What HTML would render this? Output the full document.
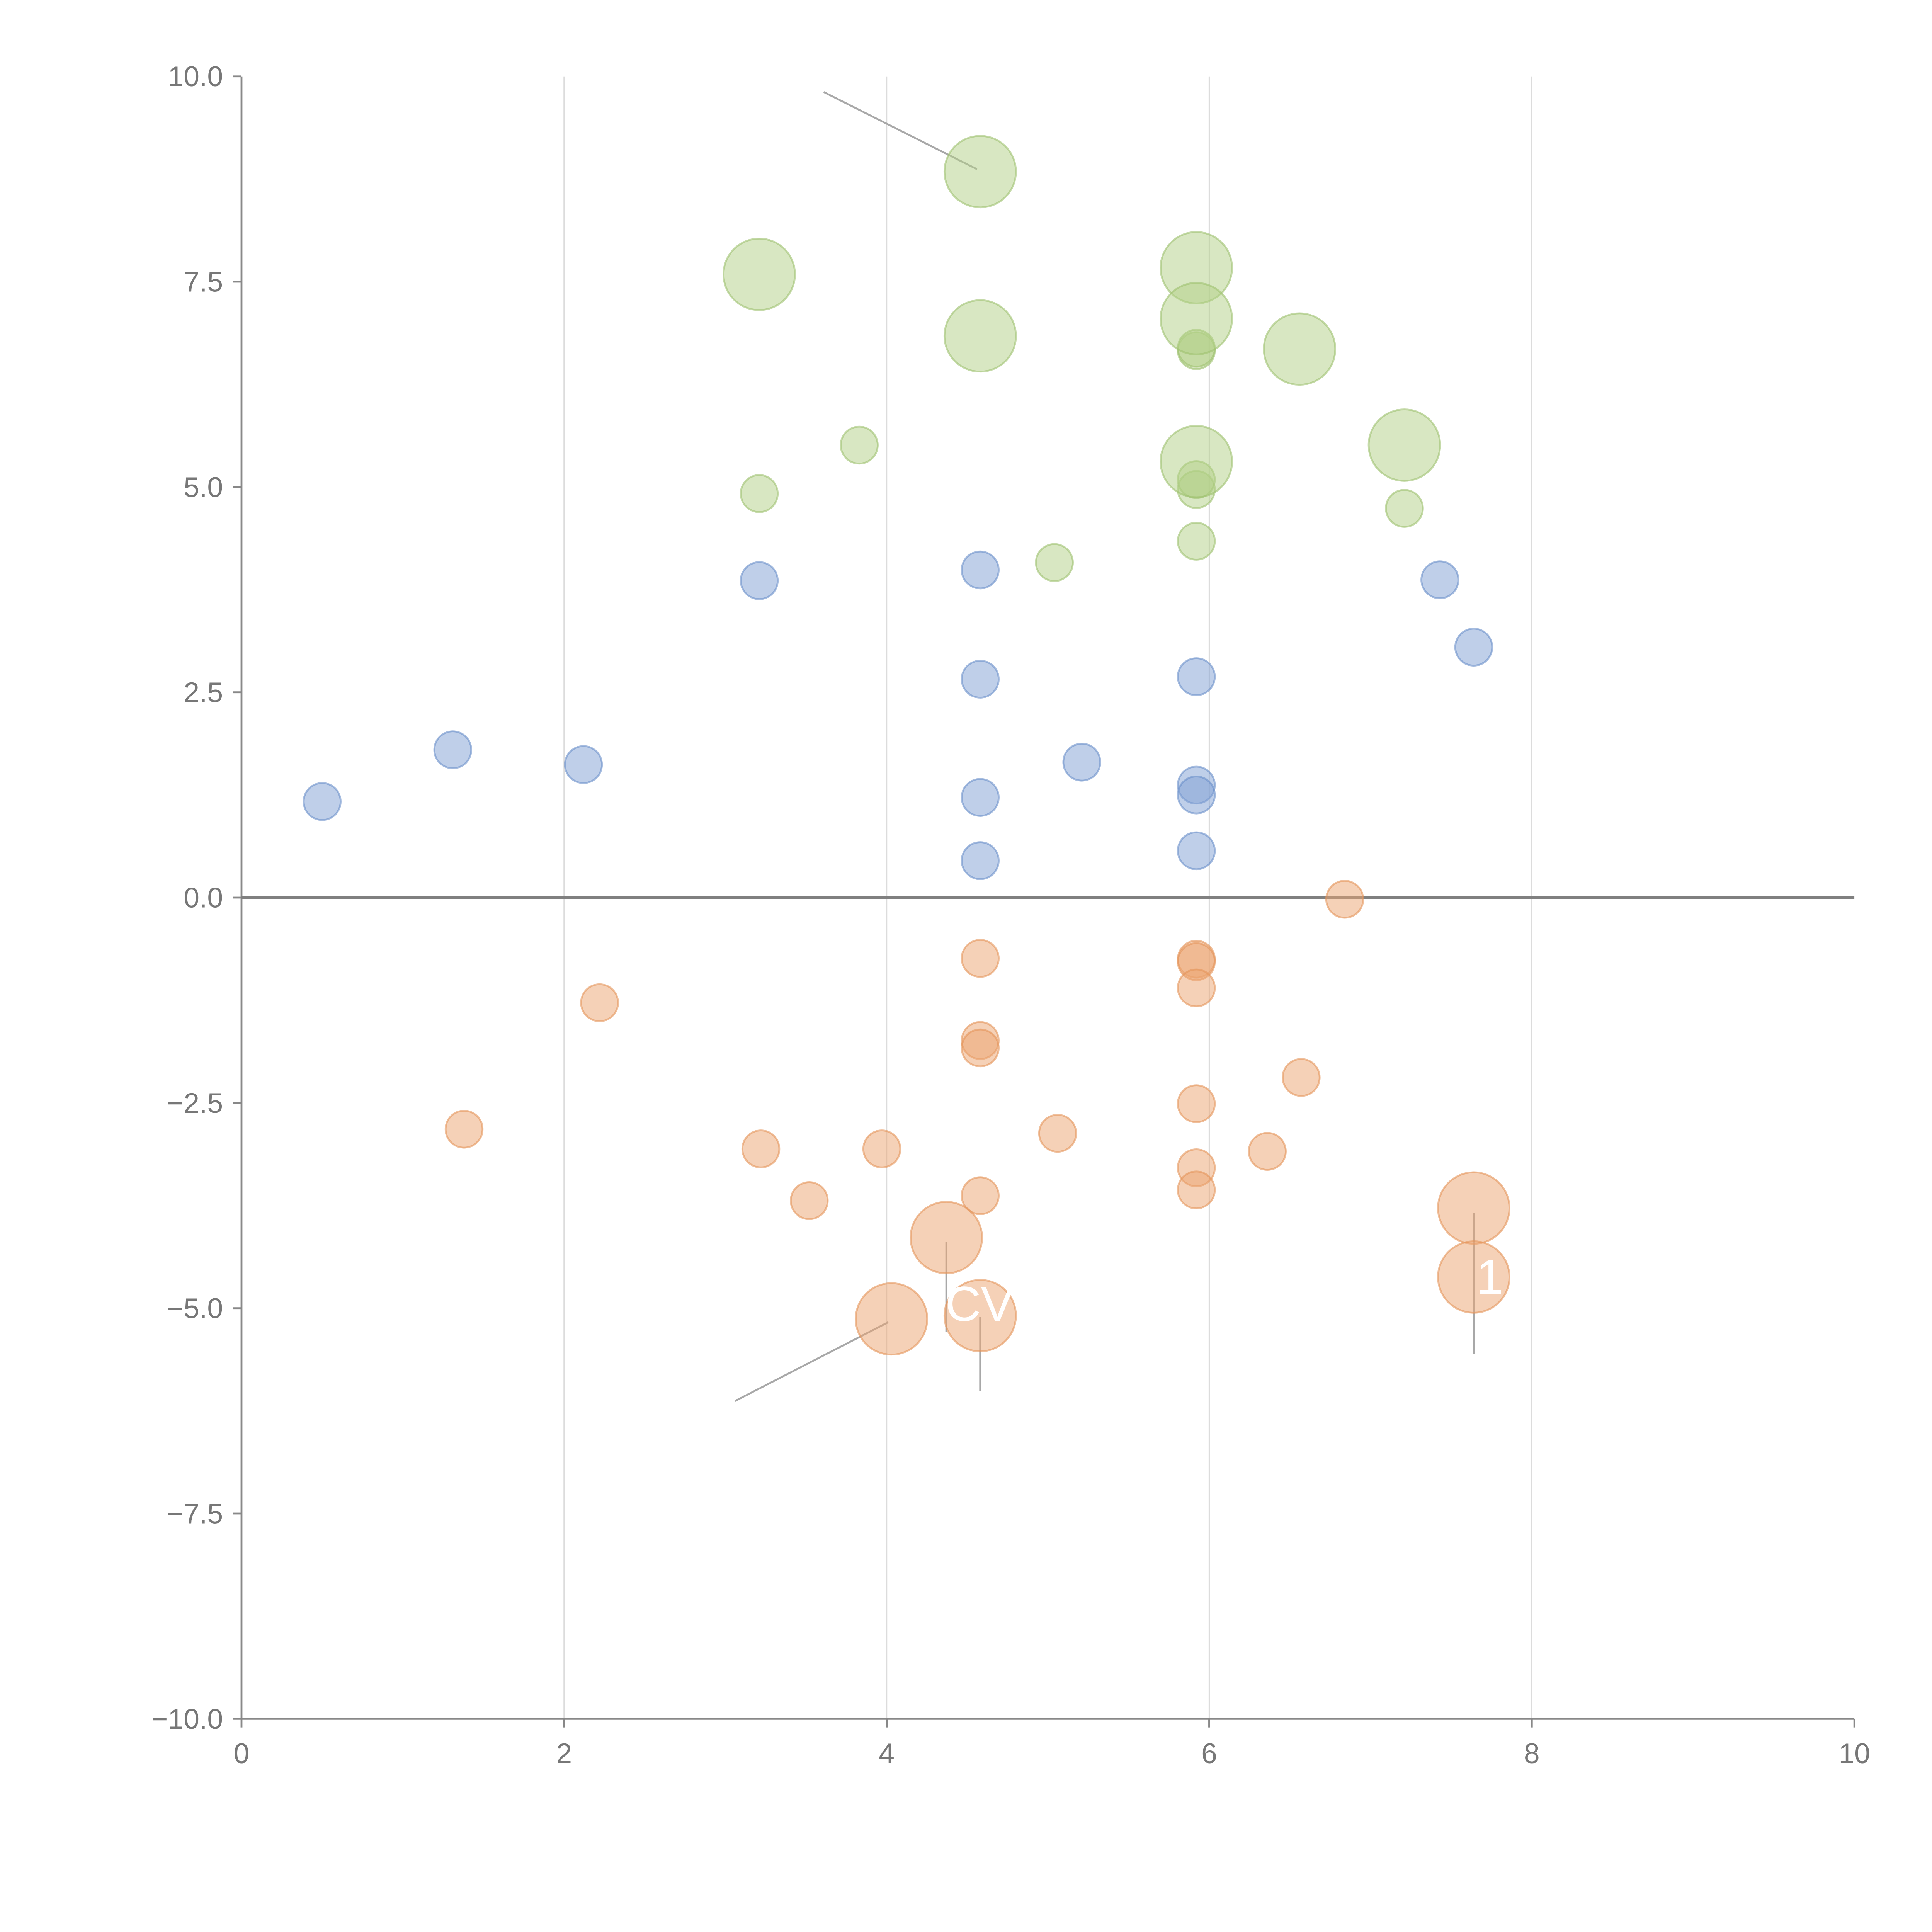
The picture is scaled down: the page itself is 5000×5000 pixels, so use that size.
<!DOCTYPE html>
<html><head><meta charset="utf-8"><style>
html,body{margin:0;padding:0;background:#fff;width:5000px;height:5000px;overflow:hidden}
svg{display:block}
text{font-family:"Liberation Sans",sans-serif}
</style></head><body>
<svg id="chart" width="5000" height="5000" viewBox="0 0 1568 1568" xmlns="http://www.w3.org/2000/svg">
<g id="grid"></g>
<g id="axes"></g>
<g id="annos"></g>
<g id="marks"></g>
<g id="labels"></g>
</svg>
<script>
const xTicks=[0,2,4,6,8,10];
const xTickLabels=["0","2","4","6","8","10"];
const yTicks=[10,7.5,5,2.5,0,-2.5,-5,-7.5,-10];
const yTickLabels=["10.0","7.5","5.0","2.5","0.0","\u22122.5","\u22125.0","\u22127.5","\u221210.0"];
const blueX=[0.50,1.31,2.12,3.21,4.58,4.58,4.58,4.58,5.21,5.92,5.92,5.92,5.92,7.43,7.64];
const blueY=[1.17,1.80,1.62,3.86,3.99,2.66,1.22,0.45,1.65,2.69,1.37,1.25,0.57,3.87,3.05];
const greenSmallX=[3.21,3.83,5.04,5.92,5.92,5.92,5.92,5.92,7.21];
const greenSmallY=[4.92,5.51,4.08,4.34,4.97,5.09,6.66,6.69,4.74];
const greenLargeX=[4.58,3.21,4.58,5.92,5.92,6.56,5.92,7.21];
const greenLargeY=[8.84,7.59,6.84,7.67,7.05,6.68,5.31,5.51];
const orangeSmallX=[6.84,4.58,5.92,5.92,5.92,2.22,4.58,4.58,6.57,5.92,1.38,5.06,3.22,3.97,6.36,5.92,5.92,4.58,3.52];
const orangeSmallY=[-0.02,-0.74,-0.75,-0.78,-1.10,-1.28,-1.74,-1.83,-2.19,-2.51,-2.82,-2.87,-3.06,-3.06,-3.09,-3.29,-3.56,-3.63,-3.69];
const orangeLargeX=[7.64,4.37,7.64,4.58,4.03];
const orangeLargeY=[-3.78,-4.14,-4.62,-5.09,-5.13];
const annoX1=[3.61,3.06,4.58,4.37,7.64];
const annoY1=[9.81,-6.13,-6.01,-4.19,-5.56];
const annoX2=[4.56,4.01,4.58,4.37,7.64];
const annoY2=[8.87,-5.17,-5.11,-5.29,-3.84];

const NS="http://www.w3.org/2000/svg";
const X0=196,X1=1505,Y0=1395,Y1=62;
const sx=v=>X0+(v-0)/(10-0)*(X1-X0);
const sy=v=>Y0-(v+10)/20*(Y0-Y1);
function mk(tag,attrs,parent){const e=document.createElementNS(NS,tag);for(const k in attrs)e.setAttribute(k,attrs[k]);parent.appendChild(e);return e;}
const grid=document.getElementById('grid'),axes=document.getElementById('axes'),annos=document.getElementById('annos'),marks=document.getElementById('marks'),labels=document.getElementById('labels');

xTicks.forEach((t,i)=>{
  if(t>0&&t<10){const g=mk('line',{x1:sx(t),x2:sx(t),y1:Y1,y2:Y0,stroke:'#dcdcdc','stroke-width':1},grid);
  
  }
  const tk=mk('line',{x1:sx(t),x2:sx(t),y1:Y0,y2:Y0+7,stroke:'#888','stroke-width':1.5},axes);
  
  
  const tx=mk('text',{x:sx(t),y:Y0+36,'text-anchor':'middle','font-size':23,fill:'#777'},axes);
  tx.textContent=xTickLabels[i];
  
  
});
yTicks.forEach((t,i)=>{
  const tk=mk('line',{x1:X0-7,x2:X0,y1:sy(t),y2:sy(t),stroke:'#888','stroke-width':1.5},axes);
  
  
  const tx=mk('text',{x:X0-15,y:sy(t)+8,'text-anchor':'end','font-size':23,fill:'#777'},axes);
  tx.textContent=yTickLabels[i];
  
  
});
const xa=mk('line',{x1:X0,x2:X1,y1:Y0,y2:Y0,stroke:'#888','stroke-width':1.5},axes);


const ya=mk('line',{x1:X0,x2:X0,y1:Y1,y2:Y0,stroke:'#888','stroke-width':1.5},axes);


const zl=mk('line',{x1:X0,x2:X1,y1:sy(0),y2:sy(0),stroke:'#808080','stroke-width':2.5},axes);



annoX1.forEach((v,i)=>{
  const l=mk('line',{x1:sx(v),y1:sy(annoY1[i]),x2:sx(annoX2[i]),y2:sy(annoY2[i]),stroke:'#a8a8a8','stroke-width':1.5},annos);
  
  
});

function series(xs,ys,r,fill,stroke,name){
  xs.forEach((v,i)=>{
    const c=mk('circle',{cx:sx(v),cy:sy(ys[i]),r:r,fill:fill,'fill-opacity':0.5,stroke:stroke,'stroke-opacity':0.6,'stroke-width':1.5},marks);
    
    
  });
}
series(blueX,blueY,15,'#7fa0d3','#6a8fc9','blue-bubble');
series(greenSmallX,greenSmallY,15,'#b2cf86','#9fc270','green-bubble');
series(greenLargeX,greenLargeY,29,'#b2cf86','#9fc270','green-large-bubble');
series(orangeSmallX,orangeSmallY,15,'#eba470','#e4955a','orange-bubble');
series(orangeLargeX,orangeLargeY,29,'#eba470','#e4955a','orange-large-bubble');

const t1=mk('text',{x:795,y:1072,'text-anchor':'middle','font-size':40,fill:'#fff'},labels);
t1.textContent='CV';


const t2=mk('text',{x:1198,y:1050,'font-size':40,fill:'#fff'},labels);
t2.textContent='1';


</script>
</body></html>
